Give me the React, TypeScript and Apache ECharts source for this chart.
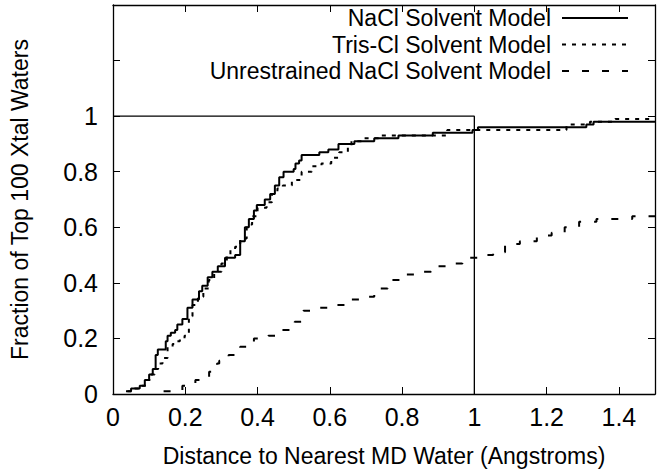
import React, { useEffect, useRef } from "react";
import * as echarts from "echarts";

// NaCl solvent model (solid): jump positions (Å) and cumulative fraction
const naclX = [0.036, 0.05, 0.074, 0.088, 0.1, 0.11, 0.118, 0.124, 0.146, 0.151, 0.16, 0.172, 0.178, 0.192, 0.206, 0.22, 0.238, 0.247, 0.262, 0.275, 0.29, 0.31, 0.338, 0.352, 0.365, 0.376, 0.39, 0.398, 0.42, 0.435, 0.448, 0.46, 0.472, 0.5, 0.505, 0.515, 0.522, 0.571, 0.596, 0.624, 0.668, 0.723, 0.79, 0.885, 0.995, 1.01, 1.31, 1.33, 1.5];
const naclY = [0.01, 0.02, 0.03, 0.05, 0.07, 0.09, 0.14, 0.16, 0.19, 0.21, 0.22, 0.23, 0.25, 0.27, 0.31, 0.34, 0.37, 0.39, 0.42, 0.44, 0.46, 0.49, 0.5, 0.55, 0.6, 0.63, 0.66, 0.68, 0.7, 0.72, 0.75, 0.78, 0.8, 0.81, 0.83, 0.84, 0.86, 0.87, 0.88, 0.9, 0.91, 0.92, 0.93, 0.94, 0.95, 0.96, 0.97, 0.98, 0.98];

// Tris-Cl solvent model (dotted)
const trisX = [0.04, 0.06, 0.08, 0.095, 0.105, 0.115, 0.125, 0.137, 0.151, 0.165, 0.173, 0.185, 0.198, 0.21, 0.22, 0.235, 0.25, 0.265, 0.28, 0.3, 0.315, 0.325, 0.338, 0.352, 0.37, 0.385, 0.4, 0.425, 0.44, 0.455, 0.47, 0.495, 0.522, 0.55, 0.577, 0.604, 0.626, 0.65, 0.66, 0.69, 0.742, 0.925, 1.19, 1.255, 1.32, 1.39, 1.5];
const trisY = [0.01, 0.02, 0.03, 0.05, 0.07, 0.09, 0.11, 0.13, 0.17, 0.18, 0.19, 0.2, 0.21, 0.28, 0.32, 0.35, 0.38, 0.41, 0.44, 0.47, 0.5, 0.52, 0.53, 0.56, 0.61, 0.64, 0.67, 0.69, 0.72, 0.74, 0.75, 0.77, 0.8, 0.82, 0.83, 0.85, 0.87, 0.89, 0.91, 0.92, 0.93, 0.95, 0.95, 0.97, 0.98, 0.99, 0.99];

// Unrestrained NaCl solvent model (dashed)
const unrX = [0.14, 0.192, 0.228, 0.266, 0.288, 0.294, 0.32, 0.352, 0.39, 0.43, 0.467, 0.503, 0.527, 0.569, 0.613, 0.654, 0.695, 0.723, 0.76, 0.797, 0.843, 0.88, 0.925, 0.967, 1.008, 1.052, 1.085, 1.126, 1.173, 1.214, 1.25, 1.29, 1.338, 1.437, 1.5];
const unrY = [0.01, 0.03, 0.05, 0.08, 0.11, 0.12, 0.14, 0.17, 0.2, 0.21, 0.23, 0.26, 0.3, 0.31, 0.32, 0.34, 0.35, 0.38, 0.41, 0.43, 0.44, 0.46, 0.47, 0.49, 0.5, 0.51, 0.54, 0.55, 0.57, 0.58, 0.6, 0.62, 0.63, 0.64, 0.65];

// Reference box: y = 1 up to x = 1, then x = 1 down to 0
const boxX = [0, 1, 1];
const boxY = [1, 1, 0];

const legendNames = ["NaCl Solvent Model", "Tris-Cl Solvent Model", "Unrestrained NaCl Solvent Model"];

const xTicks = [0, 0.2, 0.4, 0.6, 0.8, 1, 1.2, 1.4];
const yTickLabels = [0, 0.2, 0.4, 0.6, 0.8, 1];

const FONT = "Liberation Sans, Arial, Helvetica, sans-serif";
const FS = 23;
const TFS = 25;

function pairs(xs: number[], ys: number[]) {
  return xs.map((x, i) => [x, ys[i]]);
}

export default function App() {
  const ref = useRef<HTMLDivElement>(null);
  useEffect(() => {
    if (!ref.current) return;
    const chart = echarts.init(ref.current, undefined, { renderer: "svg" });
    const axisLine = { show: true, onZero: false, lineStyle: { color: "#000", width: 1.3 } };
    const tick = { show: true, inside: true, length: 7, lineStyle: { color: "#000", width: 1 } };
    const dashes = [[0, 0], [4, 6], [7, 13]];
    const lineSeries = [
      { xs: naclX, ys: naclY, dash: "solid" as any },
      { xs: trisX, ys: trisY, dash: dashes[1] },
      { xs: unrX, ys: unrY, dash: dashes[2] },
    ];
    const legendY = [18, 44.5, 71];
    chart.setOption({
      animation: false,
      backgroundColor: "#fff",
      textStyle: { fontFamily: FONT },
      grid: { left: 110, right: 2, top: 5, bottom: 76, containLabel: false },
      xAxis: [
        {
          type: "value",
          min: 0,
          max: 1.5,
          interval: 0.2,
          position: "bottom",
          axisLine,
          axisTick: tick,
          splitLine: { show: false },
          axisLabel: {
            color: "#000",
            fontSize: TFS,
            fontFamily: FONT,
            margin: 10,
            showMaxLabel: false,
            formatter: (v: number) => {
              const t = xTicks.find((k) => Math.abs(k - v) < 1e-6);
              return t === undefined ? "" : String(t);
            },
          },
          name: "Distance to Nearest MD Water (Angstroms)",
          nameLocation: "middle",
          nameGap: 50,
          nameTextStyle: { color: "#000", fontSize: FS, fontFamily: FONT },
        },
        {
          type: "value",
          min: 0,
          max: 1.5,
          interval: 0.2,
          position: "top",
          axisLine,
          axisTick: tick,
          axisLabel: { show: false },
          splitLine: { show: false },
        },
      ],
      yAxis: [
        {
          type: "value",
          min: 0,
          max: 1.4,
          interval: 0.2,
          position: "left",
          axisLine,
          axisTick: tick,
          splitLine: { show: false },
          axisLabel: {
            color: "#000",
            fontSize: TFS,
            fontFamily: FONT,
            margin: 15,
            formatter: (v: number) => {
              const t = yTickLabels.find((k) => Math.abs(k - v) < 1e-6);
              return t === undefined ? "" : String(t);
            },
          },
          name: "Fraction of Top 100 Xtal Waters",
          nameLocation: "middle",
          nameGap: 82,
          nameTextStyle: { color: "#000", fontSize: FS, fontFamily: FONT },
        },
        {
          type: "value",
          min: 0,
          max: 1.4,
          interval: 0.2,
          position: "right",
          axisLine,
          axisTick: tick,
          axisLabel: { show: false },
          splitLine: { show: false },
        },
      ],
      series: [
        {
          type: "line",
          name: "box",
          data: pairs(boxX, boxY),
          symbol: "none",
          silent: true,
          lineStyle: { color: "#000", width: 1.3 },
        },
        ...lineSeries.map((s, i) => ({
          type: "line",
          name: legendNames[i],
          data: pairs(s.xs, s.ys),
          step: "end",
          symbol: "none",
          lineStyle: { color: "#000", width: 2, type: s.dash },
        })),
      ],
      graphic: legendNames.flatMap((n, i) => [
        {
          type: "text",
          x: 551,
          y: legendY[i],
          style: {
            text: n,
            fill: "#000",
            font: `${FS}px ${FONT}`,
            align: "right",
            verticalAlign: "middle",
          },
        },
        {
          type: "line",
          shape: { x1: 562, y1: legendY[i], x2: 628, y2: legendY[i] },
          style: {
            stroke: "#000",
            lineWidth: 2,
            lineDash: i === 0 ? null : dashes[i],
          },
        },
      ]),
    });
    return () => chart.dispose();
  }, []);
  return <div ref={ref} style={{ width: 657, height: 472, position: "fixed", left: 0, top: 0 }} />;
}
